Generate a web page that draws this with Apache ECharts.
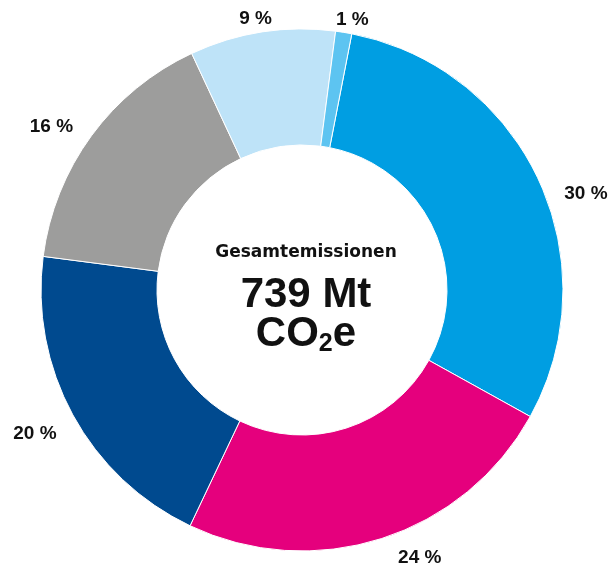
<!DOCTYPE html>
<html><head><meta charset="utf-8">
<script src="https://cdn.jsdelivr.net/npm/echarts@6/dist/echarts.min.js"></script>
<style>html,body{margin:0;padding:0;background:#fff}#c{width:612px;height:566px}</style>
</head><body><div id="c"></div>
<script>
var categories = ['A', 'B', 'C', 'D', 'E', 'F'];
var values = [30, 24, 20, 16, 9, 1];
var labels = ['30 %', '24 %', '20 %', '16 %', '9 %', '1 %'];
var colors = ['#009ee2', '#e5007d', '#004a8f', '#9d9d9c', '#bee3f8', '#5dc4f1'];
var centerTitle = 'Gesamtemissionen';
var centerValue = '739 Mt';
var centerUnit = ['CO', '2', 'e'];

// label nudges (style only)
var labelNudge = [[8, 20], [7, 6], [1, 12], [-2, -1], [17, 1], [-15, 1]];

var FONT = 'Liberation Sans, Arial, sans-serif';
var chart = echarts.init(document.getElementById('c'));
chart.setOption({
  animation: false,
  series: [{
    type: 'pie',
    center: [302, 290],
    radius: [145, 261],
    startAngle: 79,
    clockwise: true,
    data: categories.map(function (c, i) {
      return { name: c, value: values[i], itemStyle: { color: colors[i] } };
    }),
    itemStyle: { borderColor: '#fff', borderWidth: 1 },
    label: {
      show: true,
      position: 'outside',
      formatter: function (p) { return labels[p.dataIndex]; },
      fontFamily: FONT, fontWeight: 'bold', fontSize: 19, color: '#111'
    },
    labelLine: { show: false, length: 14, length2: 0 },
    labelLayout: function (p) {
      var n = labelNudge[p.dataIndex];
      return { dx: n[0], dy: n[1] };
    }
  }],
  graphic: [
    { type: 'text', left: 'center', top: 244, style: { text: centerTitle, font: 'bold 17px DejaVu Sans', fill: '#111' } },
    { type: 'text', left: 'center', top: 274, style: { text: centerValue, font: 'bold 42px ' + FONT, fill: '#111' } },
    { type: 'text', left: 'center', top: 313, style: {
      text: '{n|' + centerUnit[0] + '}{s|' + centerUnit[1] + '}{n|' + centerUnit[2] + '}',
      fill: '#111',
      rich: {
        n: { fontFamily: FONT, fontWeight: 'bold', fontSize: 42, lineHeight: 46, fill: '#111' },
        s: { fontFamily: FONT, fontWeight: 'bold', fontSize: 25, lineHeight: 46, verticalAlign: 'bottom', fill: '#111' }
      }
    } }
  ]
});
</script></body></html>
